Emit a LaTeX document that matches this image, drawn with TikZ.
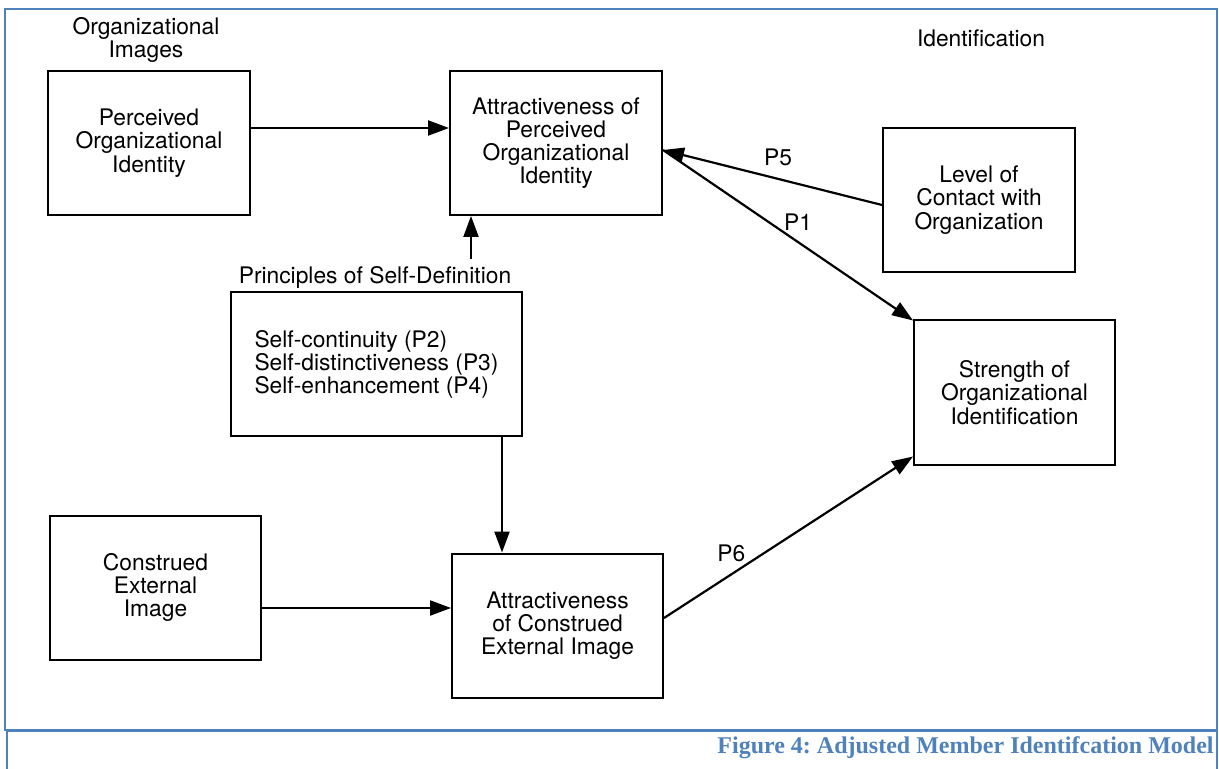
\documentclass[tikz,border=0pt]{standalone}
\usepackage{fontspec}
\setmainfont{TeX Gyre Heros}
\newfontfamily\capfont{Liberation Serif}
\usetikzlibrary{arrows.meta}
\definecolor{wordblue}{RGB}{79,129,189}
\frenchspacing
\begin{document}
\begin{tikzpicture}
			[x=0.5pt,y=-0.5pt,
			every node/.style={font=\fontsize{11.4}{11.6}\selectfont},
			box/.style={draw, line width=1pt, inner sep=0pt, align=center,
				minimum height=72pt},
			arr/.style={-{Triangle[length=10.5pt,width=7.5pt]}, line width=1.1pt},
			frame/.style={draw=wordblue, line width=1.2pt}]
			\useasboundingbox (0,0) rectangle (1219,769);
			% frames
			\draw[frame] (5,9) rectangle (1217,730);
			\draw[frame] (7,775) -- (7,731) -- (1217,731) -- (1217,775);
			\node[anchor=base east, font=\capfont\bfseries\fontsize{12}{13}\selectfont,
				text=wordblue, inner sep=0pt] (caption) at (1214,753)
				{Figure 4: Adjusted Member Identifcation Model};
			% headings
			\node[align=center] (images) at (146,40) {Organizational\\Images};
			\node (ident) at (981,38) {Identification};
			% boxes
			\node[box, minimum width=101pt] (perc) at (149,143)
				{Perceived\\Organizational\\Identity};
			\node[box, minimum width=106pt] (attrperc) at (556,143)
				{Attractiveness of\\Perceived\\Organizational\\Identity};
			\node[box, minimum width=96pt] (level) at (979,200)
				{Level of\\Contact with\\Organization};
			\node[box, minimum width=100.5pt] (strength) at (1014.5,392.5)
				{Strength of\\Organizational\\Identification};
			\node (princlabel) at (375,277) {Principles of Self-Definition};
			\node[box, minimum width=145.5pt, align=left] (princ) at (376.5,364.5)
				{Self-continuity (P2)\\Self-distinctiveness (P3)\\Self-enhancement (P4)};
			\node[box, minimum width=105.5pt] (constr) at (155.5,587.5)
				{Construed\\External\\Image};
			\node[box, minimum width=105.5pt] (attrcons) at (557.5,625.5)
				{Attractiveness\\of Construed\\External Image};
			% connectors
			\draw[arr] ([yshift=7.5pt]perc.east) -- ([yshift=7.5pt]attrperc.west);
			\draw[arr] ([xshift=48pt]princlabel.north) -- ([xshift=-42.5pt]attrperc.south);
			\draw[arr] ([xshift=62.75pt]princ.south) -- ([xshift=-27.75pt]attrcons.north);
			\draw[arr] ([yshift=-10.25pt]constr.east) -- ([yshift=8.75pt]attrcons.west);
			\draw[arr] ([yshift=-2.5pt]level.west) -- ([yshift=-3.5pt]attrperc.east)
				node[pos=0.475, above=2.5pt] {P5};
			\draw[arr] ([yshift=-3.5pt]attrperc.east) -- ([yshift=-0.5pt]strength.north west)
				node[pos=0.54, above=2pt] {P1};
			\draw[arr] ([yshift=3.75pt]attrcons.east) -- ([yshift=4.5pt]strength.south west)
				node[pos=0.27, above=2.5pt] {P6};
		\end{tikzpicture}
\end{document}
